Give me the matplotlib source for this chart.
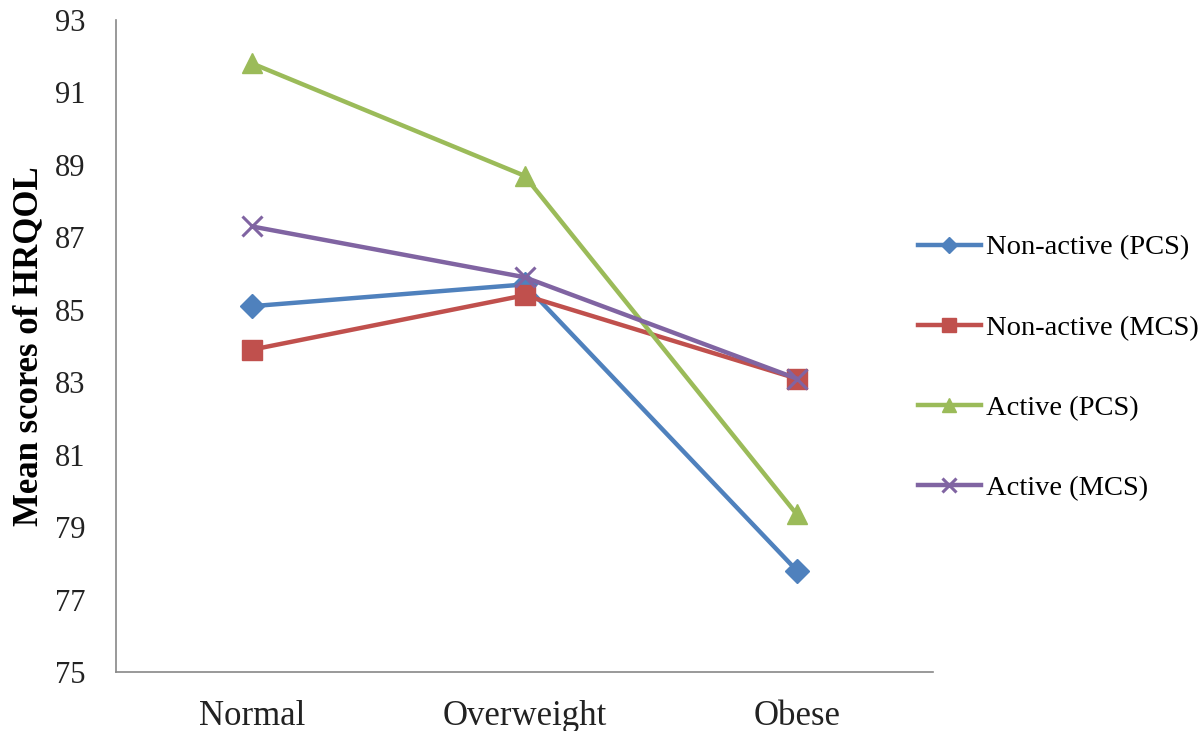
import matplotlib
matplotlib.use("Agg")
import matplotlib.pyplot as plt

categories = ["Normal", "Overweight", "Obese"]
series_names = ["Non-active (PCS)", "Non-active (MCS)", "Active (PCS)", "Active (MCS)"]
nonactive_pcs = [85.1, 85.7, 77.8]
nonactive_mcs = [83.9, 85.4, 83.1]
active_pcs = [91.8, 88.7, 79.35]
active_mcs = [87.3, 85.9, 83.1]
y_ticks = [75, 77, 79, 81, 83, 85, 87, 89, 91, 93]

plt.rcParams['font.family'] = ['Liberation Serif', 'DejaVu Serif']

fig = plt.figure(figsize=(12, 7.31), dpi=100)
ax = fig.add_axes([0.0967, 0.0807, 0.6808, 0.8919])

styles = [
    dict(color="#4F81BD", marker="D", markersize=12),
    dict(color="#C0504D", marker="s", markersize=14),
    dict(color="#9BBB59", marker="^", markersize=15),
    dict(color="#8064A2", marker="x", markersize=14, markeredgewidth=2.2),
]
data = [nonactive_pcs, nonactive_mcs, active_pcs, active_mcs]
x = list(range(len(categories)))
for name, vals, st in zip(series_names, data, styles):
    ax.plot(x, vals, linewidth=3.2, label=name, **st)

ax.set_xlim(-0.5, 2.5)
ax.set_ylim(75, 93)
ax.set_yticks(y_ticks)
ax.set_xticks(x)
ax.set_xticklabels(categories)
ax.tick_params(axis='both', length=0, colors='#222222')
ax.tick_params(axis='y', pad=22, labelsize=22)
ax.tick_params(axis='x', pad=20, labelsize=25)
for s in ["top", "right"]:
    ax.spines[s].set_visible(False)
for s in ["left", "bottom"]:
    ax.spines[s].set_color("#888888")
    ax.spines[s].set_linewidth(1.2)

ax.set_ylabel("Mean scores of HRQOL", fontsize=25, fontweight="bold", labelpad=7)

leg = fig.legend(loc="center left", bbox_to_anchor=(0.765, 0.497), frameon=False,
                 fontsize=20.5, labelspacing=1.9, handlelength=2.2, handletextpad=0.2,
                 markerscale=0.7, borderpad=0, borderaxespad=0)

fig.savefig("out.png", dpi=100)
